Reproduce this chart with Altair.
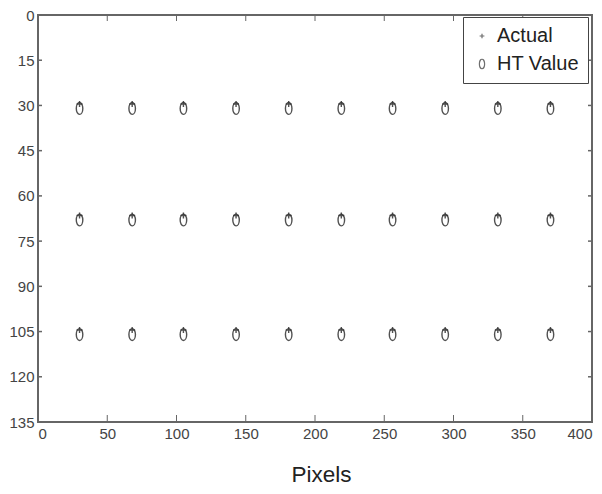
import altair as alt
import pandas as pd

# data
x_vals = [30, 68, 105, 143, 181, 219, 256, 294, 332, 370]
y_rows_actual = [29.5, 66.5, 104.5]
y_rows_ht = [31, 68, 106]
series = ["Actual", "HT Value"]
x_ticks = [0, 50, 100, 150, 200, 250, 300, 350, 400]
y_ticks = [0, 15, 30, 45, 60, 75, 90, 105, 120, 135]

rows = []
for yr in y_rows_actual:
    for xv in x_vals:
        rows.append({"x": xv, "y": yr, "series": "Actual"})
for yr in y_rows_ht:
    for xv in x_vals:
        rows.append({"x": xv, "y": yr, "series": "HT Value"})
df = pd.DataFrame(rows)

W, H = 554, 407
xs = alt.Scale(domain=[0, 400], nice=False, zero=False)
ys = alt.Scale(domain=[0, 135], reverse=True, nice=False, zero=False)

plus = "M-0.5,0L0.5,0M0,-0.5L0,0.5"
ellipse = "M0,-1A0.55,1 0 1,1 0,1A0.55,1 0 1,1 0,-1Z"

tick_font = "Liberation Sans"

points = alt.Chart(df).mark_point(filled=False, strokeWidth=1.4, color="#333", opacity=0.85).encode(
    x=alt.X("x:Q", scale=xs, axis=alt.Axis(
        values=x_ticks, title="Pixels", grid=False, ticks=False, domain=False,
        labelFont=tick_font, labelFontSize=15, labelColor="#444", labelPadding=4,
        titleFont="Liberation Sans", titleFontSize=22.5, titleFontWeight="normal", titleColor="#222",
        titlePadding=22, titleX=W / 2 + 6)),
    y=alt.Y("y:Q", scale=ys, axis=alt.Axis(
        values=y_ticks, title=None, grid=False, ticks=False, domain=False,
        labelFont=tick_font, labelFontSize=15, labelColor="#444", labelPadding=4)),
    shape=alt.Shape("series:N", scale=alt.Scale(domain=series, range=[plus, ellipse]),
                    legend=alt.Legend(
                        title=None, orient="none", legendX=425, legendY=2,
                        labelFont="Liberation Sans", labelFontSize=20, labelColor="#222",
                        strokeColor="#444", fillColor="white", padding=9,
                        symbolSize=90, symbolStrokeColor="#555", symbolStrokeWidth=1.2,
                        rowPadding=8, labelOffset=5)),
    size=alt.value(140),
)

xt = pd.DataFrame({"v": x_ticks})
yt = pd.DataFrame({"v": y_ticks})

bottom_ticks = alt.Chart(xt).mark_rule(color="#666", strokeWidth=1).encode(
    x=alt.X("v:Q", scale=xs), y=alt.value(H), y2=alt.value(H - 7))
top_ticks = alt.Chart(xt).mark_rule(color="#666", strokeWidth=1).encode(
    x=alt.X("v:Q", scale=xs), y=alt.value(0), y2=alt.value(6))
left_ticks = alt.Chart(yt).mark_rule(color="#666", strokeWidth=1.5).encode(
    y=alt.Y("v:Q", scale=ys), x=alt.value(0), x2=alt.value(4))
right_ticks = alt.Chart(yt).mark_rule(color="#666", strokeWidth=1.5).encode(
    y=alt.Y("v:Q", scale=ys), x=alt.value(W), x2=alt.value(W - 4))

chart = alt.layer(bottom_ticks, top_ticks, left_ticks, right_ticks, points).properties(
    width=W, height=H,
    autosize=alt.AutoSizeParams(type="none"),
    padding={"left": 30, "top": 7, "right": 1, "bottom": 63},
    background="white",
).configure_view(stroke="#666", strokeWidth=2)

chart.save("out.html", embed_options={"renderer": "svg", "actions": False})
